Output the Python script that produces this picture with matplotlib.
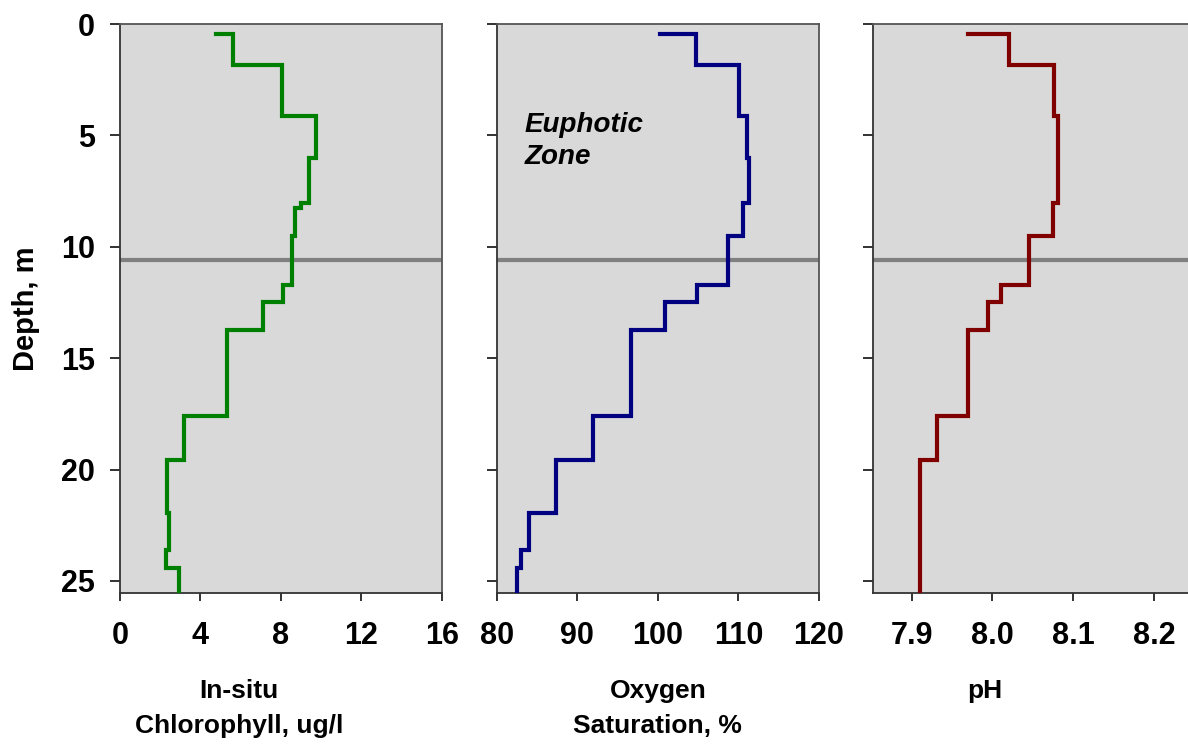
import numpy as np
import matplotlib
matplotlib.use('Agg')
import matplotlib.pyplot as plt

plt.rcParams['font.family'] = ['Liberation Sans', 'DejaVu Sans']
plt.rcParams['font.weight'] = 'bold'

# layer boundaries (m) shared by the three profiles
depth_edges = [0.45, 1.85, 4.15, 6.0, 8.05, 8.25, 9.5, 11.7, 12.5, 13.75,
               17.6, 19.55, 21.95, 23.6, 24.4, 25.6]

# surface reading, then one value per layer
chl_surface = 4.75
chl = [5.6, 8.05, 9.75, 9.42, 9.0, 8.7, 8.55, 8.13, 7.1, 5.33,
       3.17, 2.33, 2.42, 2.28, 2.95]

oxy_surface = 100.3
oxy = [104.7, 110.1, 111.1, 111.3, 110.6, 110.6, 108.7, 104.9, 100.9, 96.7,
       91.9, 87.4, 84.0, 83.0, 82.5]

ph_surface = 7.97
ph = [8.02, 8.076, 8.081, 8.081, 8.075, 8.075, 8.045, 8.01, 7.995, 7.97,
      7.931, 7.911, 7.911, 7.911, 7.911]

euphotic_depth = 10.6

chl_ticks = [0, 4, 8, 12, 16]
oxy_ticks = [80, 90, 100, 110, 120]
ph_ticks = [7.9, 8.0, 8.1, 8.2]
ph_ticklabels = ['7.9', '8.0', '8.1', '8.2']
depth_ticks = [0, 5, 10, 15, 20, 25]


def step_profile(surface, vals, edges):
    # horizontal jump at each boundary, vertical run through each layer
    x = [surface]
    y = [edges[0]]
    for i, v in enumerate(vals):
        x += [v, v]
        y += [edges[i], edges[i + 1]]
    return np.array(x), np.array(y)


W, H = 1188, 745
fig = plt.figure(figsize=(W / 100, H / 100), dpi=100)

bottom = (H - 593) / H
height = 569 / H
ax1 = fig.add_axes([120 / W, bottom, 321.7 / W, height])
ax2 = fig.add_axes([496.7 / W, bottom, 322.3 / W, height])
ax3 = fig.add_axes([872.7 / W, bottom, 322.0 / W, height])

panels = [
    (ax1, chl_surface, chl, '#008000', (0, 16), chl_ticks, None,
     'In-situ\nChlorophyll, ug/l', 0.37),
    (ax2, oxy_surface, oxy, '#000080', (80, 120), oxy_ticks, None,
     'Oxygen\nSaturation, %', 0.5),
    (ax3, ph_surface, ph, '#800000', (7.852, 8.25), ph_ticks, ph_ticklabels,
     'pH', 0.349),
]

for ax, surf, vals, col, xlim, xt, xtl, label, lx in panels:
    ax.set_facecolor('#d9d9d9')
    x, y = step_profile(surf, vals, depth_edges)
    ax.plot(x, y, color=col, lw=3, solid_joinstyle='miter', zorder=3)
    ax.axhline(euphotic_depth, color='#808080', lw=3, zorder=2)
    ax.set_xlim(*xlim)
    ax.set_ylim(25.54, 0)
    ax.set_xticks(xt)
    if xtl:
        ax.set_xticklabels(xtl)
    ax.set_yticks(depth_ticks)
    ax.tick_params(axis='x', direction='out', length=6, width=1.3,
                   color='#222222', labelsize=22, pad=14)
    ax.tick_params(axis='y', direction='out', length=7, width=1.3,
                   color='#222222', labelsize=22, pad=11)
    for s in ax.spines.values():
        s.set_color('#555555')
        s.set_linewidth(1.3)
    ax.spines['left'].set_color('#333333')
    ax.spines['bottom'].set_color('#333333')
    ax.set_xlabel(label, fontsize=19, fontweight='bold', linespacing=1.55)
    ax.xaxis.set_label_coords(lx, -0.152)

ax2.tick_params(axis='y', labelleft=False)
ax3.tick_params(axis='y', labelleft=False)

ax1.set_ylabel('Depth, m', fontsize=21, fontweight='bold')
ax1.yaxis.set_label_coords(-0.249, 0.5)

ax2.text(83.5, 5.25, 'Euphotic\nZone', fontsize=20, fontweight='bold',
         style='italic', ha='left', va='center', linespacing=1.28)

fig.savefig('out.png', dpi=100)
